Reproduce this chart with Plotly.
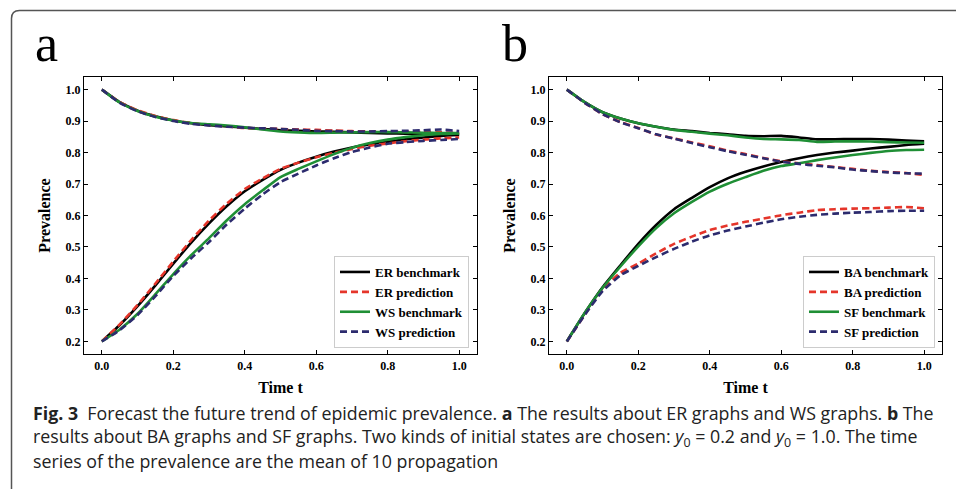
import plotly.graph_objects as go

# ---------------- data ----------------
t = [0.00, 0.05, 0.10, 0.15, 0.20, 0.25, 0.30, 0.35, 0.40, 0.45, 0.50,
     0.55, 0.60, 0.65, 0.70, 0.75, 0.80, 0.85, 0.90, 0.95, 1.00]

# panel a : initial state 0.2 (lo) and 1.0 (hi)
er_bench_lo = [0.200, 0.252, 0.312, 0.378, 0.447, 0.514, 0.575, 0.630, 0.677, 0.713, 0.745,
               0.768, 0.787, 0.803, 0.816, 0.826, 0.834, 0.842, 0.848, 0.853, 0.856]
er_pred_lo = [0.200, 0.254, 0.316, 0.384, 0.454, 0.522, 0.584, 0.638, 0.684, 0.718, 0.748,
              0.768, 0.785, 0.799, 0.811, 0.822, 0.829, 0.836, 0.841, 0.845, 0.848]
ws_bench_lo = [0.200, 0.238, 0.288, 0.350, 0.414, 0.474, 0.528, 0.585, 0.636, 0.680, 0.722,
               0.748, 0.772, 0.795, 0.815, 0.830, 0.841, 0.849, 0.855, 0.859, 0.861]
ws_pred_lo = [0.200, 0.236, 0.284, 0.344, 0.408, 0.464, 0.516, 0.572, 0.622, 0.667, 0.706,
              0.733, 0.759, 0.782, 0.802, 0.816, 0.828, 0.833, 0.837, 0.840, 0.843]

er_bench_hi = [1.000, 0.960, 0.933, 0.915, 0.902, 0.893, 0.887, 0.883, 0.879, 0.875, 0.871,
               0.869, 0.867, 0.866, 0.864, 0.862, 0.861, 0.860, 0.859, 0.858, 0.858]
er_pred_hi = [1.000, 0.960, 0.934, 0.916, 0.903, 0.894, 0.888, 0.883, 0.878, 0.876, 0.875,
              0.873, 0.872, 0.870, 0.868, 0.867, 0.866, 0.866, 0.865, 0.864, 0.862]
ws_bench_hi = [1.000, 0.959, 0.932, 0.914, 0.902, 0.894, 0.890, 0.886, 0.880, 0.873, 0.867,
               0.864, 0.862, 0.863, 0.864, 0.865, 0.865, 0.864, 0.863, 0.862, 0.862]
ws_pred_hi = [1.000, 0.958, 0.931, 0.913, 0.900, 0.891, 0.886, 0.882, 0.879, 0.877, 0.875,
              0.872, 0.869, 0.868, 0.867, 0.867, 0.868, 0.869, 0.871, 0.873, 0.868]

# panel b
ba_bench_lo = [0.200, 0.290, 0.372, 0.442, 0.510, 0.570, 0.620, 0.656, 0.690, 0.718, 0.739,
               0.756, 0.770, 0.782, 0.792, 0.800, 0.806, 0.813, 0.818, 0.824, 0.828]
sf_bench_lo = [0.200, 0.290, 0.370, 0.438, 0.502, 0.560, 0.607, 0.643, 0.676, 0.701, 0.722,
               0.742, 0.757, 0.766, 0.776, 0.784, 0.792, 0.799, 0.805, 0.808, 0.809]
ba_pred_lo = [0.200, 0.285, 0.365, 0.418, 0.447, 0.480, 0.510, 0.533, 0.554, 0.568, 0.580,
              0.590, 0.601, 0.609, 0.617, 0.620, 0.622, 0.623, 0.625, 0.627, 0.623]
sf_pred_lo = [0.200, 0.284, 0.360, 0.410, 0.440, 0.468, 0.494, 0.517, 0.537, 0.552, 0.565,
              0.577, 0.588, 0.596, 0.602, 0.606, 0.609, 0.611, 0.614, 0.615, 0.615]

ba_bench_hi = [1.000, 0.960, 0.928, 0.908, 0.893, 0.882, 0.873, 0.868, 0.862, 0.858, 0.853,
               0.852, 0.853, 0.848, 0.842, 0.842, 0.843, 0.843, 0.841, 0.838, 0.836]
sf_bench_hi = [1.000, 0.960, 0.928, 0.908, 0.893, 0.882, 0.872, 0.866, 0.860, 0.855, 0.848,
               0.843, 0.842, 0.840, 0.834, 0.835, 0.836, 0.835, 0.833, 0.832, 0.831]
ba_pred_hi = [1.000, 0.958, 0.922, 0.897, 0.878, 0.857, 0.845, 0.832, 0.820, 0.806, 0.795,
              0.783, 0.772, 0.766, 0.760, 0.754, 0.748, 0.742, 0.738, 0.735, 0.729]
sf_pred_hi = [1.000, 0.958, 0.922, 0.896, 0.877, 0.858, 0.844, 0.830, 0.817, 0.804, 0.793,
              0.782, 0.771, 0.764, 0.758, 0.753, 0.746, 0.741, 0.737, 0.734, 0.733]

x_ticks = [0.0, 0.2, 0.4, 0.6, 0.8, 1.0]
y_ticks = [0.2, 0.3, 0.4, 0.5, 0.6, 0.7, 0.8, 0.9, 1.0]

caption_lines = [
    "<b>Fig. 3</b>  Forecast the future trend of epidemic prevalence. <b>a</b> The results about ER graphs and WS graphs. <b>b</b> The",
    "results about BA graphs and SF graphs. Two kinds of initial states are chosen: <i>y</i><sub>0</sub> = 0.2 and <i>y</i><sub>0</sub> = 1.0. The time",
    "series of the prevalence are the mean of 10 propagation",
]

# ---------------- style ----------------
W, H = 956, 489
SERIF = "Liberation Serif, Times New Roman, serif"
SANS = "Open Sans, Noto Sans, sans-serif"
BLACK = "#000000"
RED = "#e5352a"
GREEN = "#1f8f35"
NAVY = "#2c2b6e"


def fx(p):
    return p / W


def fy(p):
    return 1 - p / H


series_a = [
    ("ER benchmark", er_bench_lo, er_bench_hi, BLACK, "solid"),
    ("ER prediction", er_pred_lo, er_pred_hi, RED, "7px,4px"),
    ("WS benchmark", ws_bench_lo, ws_bench_hi, GREEN, "solid"),
    ("WS prediction", ws_pred_lo, ws_pred_hi, NAVY, "7px,4px"),
]
series_b = [
    ("BA benchmark", ba_bench_lo, ba_bench_hi, BLACK, "solid"),
    ("BA prediction", ba_pred_lo, ba_pred_hi, RED, "7px,4px"),
    ("SF benchmark", sf_bench_lo, sf_bench_hi, GREEN, "solid"),
    ("SF prediction", sf_pred_lo, sf_pred_hi, NAVY, "7px,4px"),
]

fig = go.Figure()
for series, xa, ya, lg in [(series_a, "x", "y", "legend"), (series_b, "x2", "y2", "legend2")]:
    for name, lo, hi, color, dash in series:
        fig.add_trace(go.Scatter(
            x=t + [None] + t, y=lo + [None] + hi, mode="lines", name=name,
            line=dict(color=color, width=2.6, dash=dash, shape="spline", smoothing=0.5),
            xaxis=xa, yaxis=ya, legend=lg, connectgaps=False,
        ))

tickfont = dict(family=SERIF, size=12, color="black", weight="bold")
titlefont = dict(family=SERIF, size=16, color="black", weight="bold")
axis_common = dict(showline=True, linecolor="black", linewidth=1.2, mirror="ticks",
                   ticks="inside", ticklen=4, tickwidth=1, tickcolor="black",
                   showgrid=False, zeroline=False, tickfont=tickfont)

xdom_a = [fx(84), fx(477)]
xdom_b = [fx(549), fx(942)]
ydom = [fy(354), fy(77)]

for xa, ya, dom, anchor_x, anchor_y in [("xaxis", "yaxis", xdom_a, "y", "x"),
                                        ("xaxis2", "yaxis2", xdom_b, "y2", "x2")]:
    fig.layout[xa] = dict(axis_common, domain=dom, anchor=anchor_x, range=[-0.05, 1.05],
                          tickvals=x_ticks, ticktext=[f"{v:.1f}" for v in x_ticks],
                          title=dict(text="Time t", font=titlefont, standoff=10))
    fig.layout[ya] = dict(axis_common, domain=ydom, anchor=anchor_y, range=[0.16, 1.04],
                          tickvals=y_ticks, ticktext=[f"{v:.1f}" for v in y_ticks],
                          title=dict(text="Prevalence", font=titlefont, standoff=10))

legend_common = dict(bordercolor="#cccccc", borderwidth=1, bgcolor="rgba(255,255,255,0.85)",
                     font=dict(family=SERIF, size=13, color="black", weight="bold"),
                     xanchor="right", yanchor="bottom", tracegroupgap=0, itemwidth=30)
fig.update_layout(
    legend=dict(legend_common, x=fx(469), y=fy(348)),
    legend2=dict(legend_common, x=fx(935), y=fy(348)),
)

annotations = [
    dict(text="a", x=fx(33), y=fy(44), xanchor="left", yanchor="middle",
         font=dict(family=SERIF, size=52, color="black")),
    dict(text="b", x=fx(500), y=fy(44), xanchor="left", yanchor="middle",
         font=dict(family=SERIF, size=52, color="black")),
]
for i, line in enumerate(caption_lines):
    annotations.append(dict(text=line, x=fx(31), y=fy(413 + 24 * i), xanchor="left",
                            yanchor="middle", align="left",
                            font=dict(family=SANS, size=17.8, color="#222222")))
for a in annotations:
    a.update(xref="paper", yref="paper", showarrow=False)

x0 = fx(11.5)
ytop = fy(10.5)
rx, ry = 8 / W, 8 / H
frame_path = (f"M {x0},0 L {x0},{ytop - ry} Q {x0},{ytop} {x0 + rx},{ytop} L 1,{ytop}")

fig.update_layout(
    width=W, height=H, margin=dict(l=0, r=0, t=0, b=0),
    paper_bgcolor="white", plot_bgcolor="white",
    annotations=annotations,
    shapes=[dict(type="path", path=frame_path, xref="paper", yref="paper",
                 line=dict(color="#555555", width=1.5))],
    showlegend=True,
)

fig.write_html("out.html")
